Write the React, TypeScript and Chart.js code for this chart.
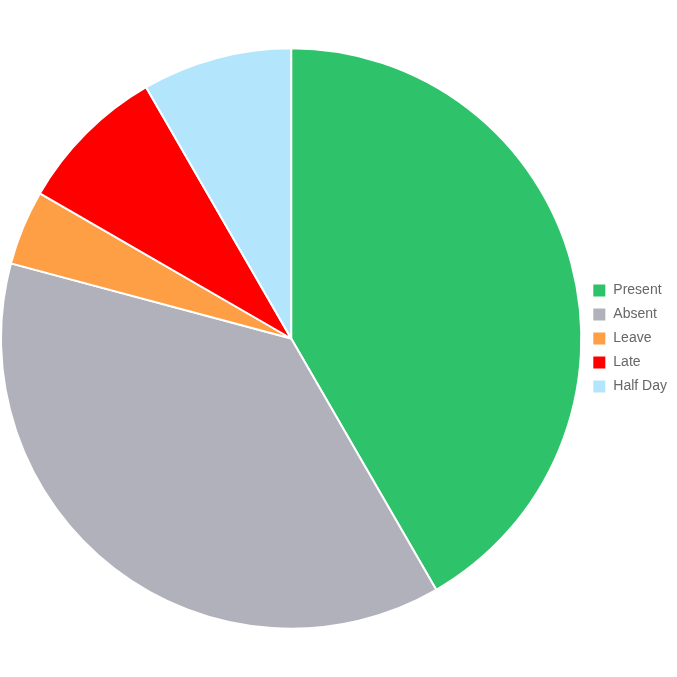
import React, { useEffect, useRef } from "react";
import { Chart, registerables } from "chart.js";

Chart.register(...registerables);

const labels = ["Present", "Absent", "Leave", "Late", "Half Day"];
const values = [10, 9, 1, 2, 2];
const colors = ["#2ec36a", "#b0b1bb", "#ff9f45", "#ff0000", "#b3e5fc"];

export default function App() {
  const ref = useRef<HTMLCanvasElement | null>(null);
  useEffect(() => {
    if (!ref.current) return;
    const chart = new Chart(ref.current, {
      type: "pie",
      data: {
        labels,
        datasets: [
          {
            data: values,
            backgroundColor: colors,
            borderColor: "#ffffff",
            borderWidth: 2,
          },
        ],
      },
      options: {
        animation: false,
        responsive: true,
        maintainAspectRatio: false,
        plugins: {
          legend: {
            position: "right",
            labels: {
              boxWidth: 14,
              boxHeight: 14,
              color: "#666666",
              font: { size: 14, family: "'Liberation Sans', Arial, sans-serif" },
            },
          },
          tooltip: { enabled: false },
        },
      },
    });
    return () => chart.destroy();
  }, []);
  return (
    <div style={{ position: "fixed", left: 0, top: 0, width: 677, height: 677 }}>
      <canvas ref={ref} />
    </div>
  );
}
